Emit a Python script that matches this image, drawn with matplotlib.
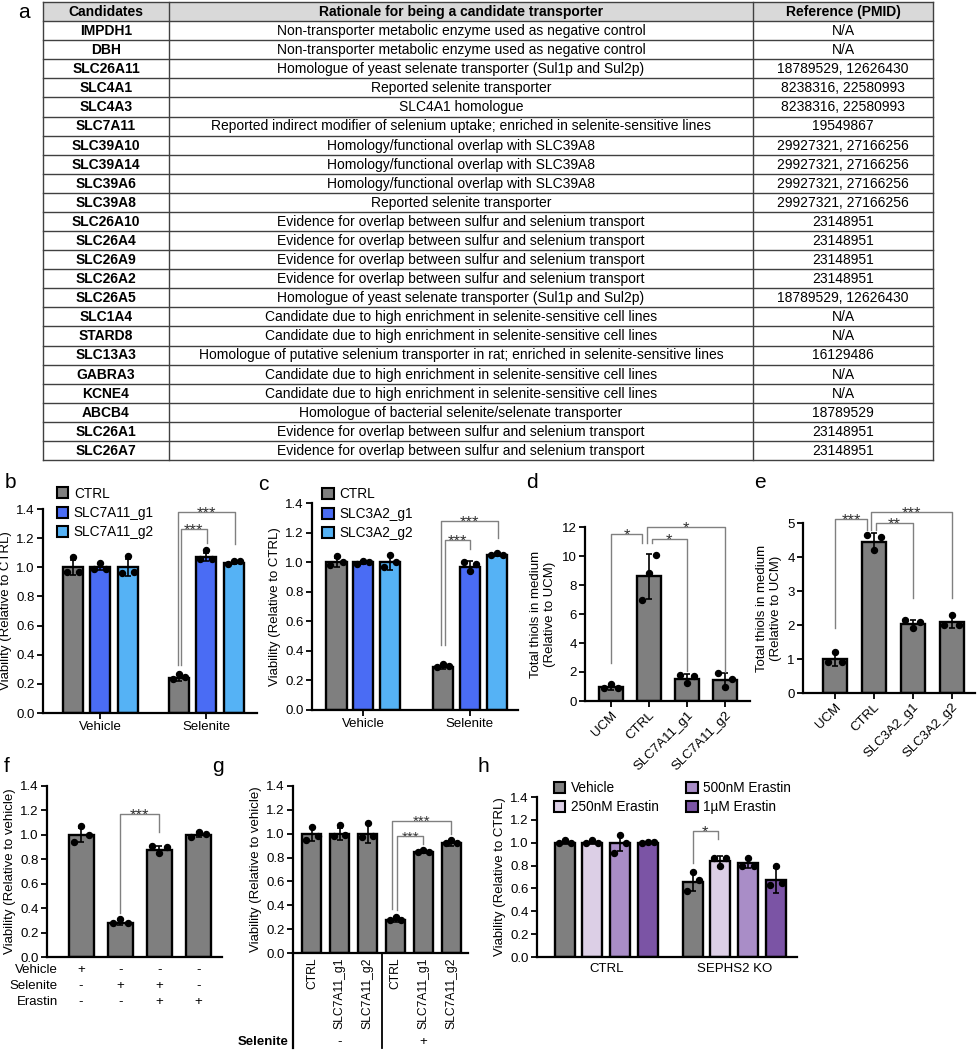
import matplotlib.pyplot as plt
import numpy as np
from matplotlib.patches import Patch, Rectangle

plt.rcParams['font.family'] = ['Liberation Sans', 'DejaVu Sans']
plt.rcParams['font.size'] = 9.2

W, H = 979, 1050

# ---- panel a: candidate table ----
table_header = ["Candidates", "Rationale for being a candidate transporter",
                "Reference (PMID)"]
candidates = ["IMPDH1", "DBH", "SLC26A11", "SLC4A1", "SLC4A3", "SLC7A11",
              "SLC39A10", "SLC39A14", "SLC39A6", "SLC39A8", "SLC26A10",
              "SLC26A4", "SLC26A9", "SLC26A2", "SLC26A5", "SLC1A4", "STARD8",
              "SLC13A3", "GABRA3", "KCNE4", "ABCB4", "SLC26A1", "SLC26A7"]
rationales = [
    "Non-transporter metabolic enzyme used as negative control",
    "Non-transporter metabolic enzyme used as negative control",
    "Homologue of yeast selenate transporter (Sul1p and Sul2p)",
    "Reported selenite transporter",
    "SLC4A1 homologue",
    "Reported indirect modifier of selenium uptake; enriched in selenite-sensitive lines",
    "Homology/functional overlap with SLC39A8",
    "Homology/functional overlap with SLC39A8",
    "Homology/functional overlap with SLC39A8",
    "Reported selenite transporter",
    "Evidence for overlap between sulfur and selenium transport",
    "Evidence for overlap between sulfur and selenium transport",
    "Evidence for overlap between sulfur and selenium transport",
    "Evidence for overlap between sulfur and selenium transport",
    "Homologue of yeast selenate transporter (Sul1p and Sul2p)",
    "Candidate due to high enrichment in selenite-sensitive cell lines",
    "Candidate due to high enrichment in selenite-sensitive cell lines",
    "Homologue of putative selenium transporter in rat; enriched in selenite-sensitive lines",
    "Candidate due to high enrichment in selenite-sensitive cell lines",
    "Candidate due to high enrichment in selenite-sensitive cell lines",
    "Homologue of bacterial selenite/selenate transporter",
    "Evidence for overlap between sulfur and selenium transport",
    "Evidence for overlap between sulfur and selenium transport"]
references = ["N/A", "N/A", "18789529, 12626430", "8238316, 22580993",
              "8238316, 22580993", "19549867", "29927321, 27166256",
              "29927321, 27166256", "29927321, 27166256", "29927321, 27166256",
              "23148951", "23148951", "23148951", "23148951",
              "18789529, 12626430", "N/A", "N/A", "16129486", "N/A", "N/A",
              "18789529", "23148951", "23148951"]

# ---- panel b ----
b_groups = ["Vehicle", "Selenite"]
b_series = ["CTRL", "SLC7A11_g1", "SLC7A11_g2"]
b_means = [[1.0, 1.0, 1.0], [0.24, 1.07, 1.03]]
b_sd = [[0.05, 0.02, 0.06], [0.02, 0.03, 0.01]]
b_points = [[[0.97, 1.07, 0.97], [0.99, 1.03, 0.99], [0.96, 1.08, 0.97]],
            [[0.23, 0.27, 0.25], [1.06, 1.12, 1.06], [1.02, 1.04, 1.04]]]

# ---- panel c ----
c_groups = ["Vehicle", "Selenite"]
c_series = ["CTRL", "SLC3A2_g1", "SLC3A2_g2"]
c_means = [[1.0, 1.0, 1.0], [0.29, 0.97, 1.05]]
c_sd = [[0.03, 0.01, 0.05], [0.01, 0.04, 0.01]]
c_points = [[[0.98, 1.04, 1.0], [0.99, 1.01, 1.0], [0.97, 1.05, 1.0]],
            [[0.29, 0.31, 0.30], [1.0, 0.94, 0.99], [1.05, 1.06, 1.05]]]

# ---- panel d ----
d_labels = ["UCM", "CTRL", "SLC7A11_g1", "SLC7A11_g2"]
d_means = [0.95, 8.6, 1.55, 1.45]
d_sd = [0.17, 1.55, 0.3, 0.45]
d_points = [[0.9, 1.2, 0.9], [7.0, 8.8, 10.1], [1.8, 1.25, 1.75],
            [1.9, 1.0, 1.5]]

# ---- panel e ----
e_labels = ["UCM", "CTRL", "SLC3A2_g1", "SLC3A2_g2"]
e_means = [1.0, 4.45, 2.03, 2.08]
e_sd = [0.2, 0.27, 0.13, 0.18]
e_points = [[0.9, 1.22, 0.9], [4.65, 4.2, 4.6], [2.15, 1.92, 2.1],
            [2.0, 2.28, 2.0]]

# ---- panel f ----
f_means = [1.0, 0.28, 0.88, 1.0]
f_sd = [0.06, 0.02, 0.03, 0.02]
f_points = [[0.94, 1.07, 1.0], [0.28, 0.31, 0.28], [0.91, 0.85, 0.9],
            [0.98, 1.02, 1.01]]
f_rows = ["Vehicle", "Selenite", "Erastin"]
f_signs = [["+", "-", "-", "-"], ["-", "+", "+", "-"], ["-", "-", "+", "+"]]

# ---- panel g ----
g_labels = ["CTRL", "SLC7A11_g1", "SLC7A11_g2",
            "CTRL", "SLC7A11_g1", "SLC7A11_g2"]
g_means = [1.0, 1.0, 1.0, 0.28, 0.85, 0.92]
g_sd = [0.06, 0.05, 0.08, 0.02, 0.01, 0.02]
g_points = [[0.95, 1.06, 0.98], [0.98, 1.07, 0.99], [0.97, 1.09, 0.98],
            [0.28, 0.30, 0.28], [0.85, 0.86, 0.85], [0.92, 0.95, 0.92]]
g_selenite = ["-", "+"]

# ---- panel h ----
h_groups = ["CTRL", "SEPHS2 KO"]
h_series = ["Vehicle", "250nM Erastin", "500nM Erastin", "1\u00b5M Erastin"]
h_means = [[1.0, 1.0, 1.0, 1.0], [0.66, 0.84, 0.82, 0.67]]
h_sd = [[0.01, 0.01, 0.07, 0.01], [0.08, 0.04, 0.04, 0.11]]
h_points = [[[1.0, 1.02, 1.0], [1.0, 1.02, 1.0], [0.91, 1.07, 1.0],
             [1.0, 1.01, 1.01]],
            [[0.58, 0.74, 0.67], [0.87, 0.8, 0.87], [0.8, 0.87, 0.8],
             [0.63, 0.8, 0.65]]]

GREY = "#7f7f7f"
BLUE = "#4a6cf4"
LIGHTBLUE = "#55b2f5"
PURPLES = [GREY, "#dccfe6", "#a98dc7", "#7b54a5"]
BRACKET = "#808080"


def px_axes(fig, left, top, right, bottom):
    """Axes placed by pixel edges of the figure."""
    return fig.add_axes([left / W, 1 - bottom / H, (right - left) / W,
                         (bottom - top) / H])


def style(ax, ymax, step, fmt="%.1f"):
    for s in ["top", "right"]:
        ax.spines[s].set_visible(False)
    for s in ["left", "bottom"]:
        ax.spines[s].set_linewidth(1.6)
    ax.set_ylim(0, ymax)
    ticks = np.arange(0, ymax + step / 2, step)
    ax.set_yticks(ticks)
    ax.set_yticklabels([fmt % t for t in ticks])
    ax.tick_params(width=1.3, length=4, labelsize=9.5, pad=2)


def draw_bars(ax, xs, means, sds, points, colors, width):
    ax.bar(xs, means, width, color=colors, edgecolor="black",
           linewidth=1.7, zorder=2)
    ax.errorbar(xs, means, yerr=sds, fmt="none", ecolor="black",
                elinewidth=1.2, capsize=2.5, capthick=1.2, zorder=3)
    for x, pts in zip(xs, points):
        ax.plot(x + np.array([-0.3, 0, 0.3]) * width, pts, "o",
                color="black", ms=4.3, zorder=4, clip_on=False)


def bracket(ax, x1, x2, top, bot1, bot2, label, size=12):
    ax.plot([x1, x1, x2, x2], [bot1, top, top, bot2], color=BRACKET,
            lw=1, clip_on=False, zorder=5)
    ax.annotate(label, ((x1 + x2) / 2, top), xytext=(0, -size * 0.37),
                textcoords="offset points", ha="center", va="baseline",
                fontsize=size, color="#333333", annotation_clip=False)


def panel_label(fig, x, y, s):
    fig.text(x / W, 1 - y / H, s, fontsize=15, ha="left", va="center")


def square_legend(ax, labels, colors, anchor, ncol=1, colspace=1.0):
    handles = [Patch(facecolor=c, edgecolor="black", lw=1.5) for c in colors]
    ax.legend(handles, labels, loc="upper left", bbox_to_anchor=anchor,
              frameon=False, borderpad=0, borderaxespad=0, ncol=ncol,
              handlelength=0.85, handleheight=0.85, handletextpad=0.4,
              labelspacing=0.4, columnspacing=colspace, fontsize=9.8)


fig = plt.figure(figsize=(W / 100, H / 100), dpi=100)

# ---------------- a: table ----------------
col_edges = [43, 169, 753, 933]
ax = px_axes(fig, 43, 2, 933, 460)
n_rows = len(candidates) + 1
ax.set_xlim(col_edges[0], col_edges[-1])
ax.set_ylim(n_rows, 0)
ax.axis("off")
ax.add_patch(Rectangle((col_edges[0], 0), col_edges[-1] - col_edges[0], 1,
                       facecolor="#d9d9d9", edgecolor="none"))
for r in range(n_rows + 1):
    ax.plot([col_edges[0], col_edges[-1]], [r, r], color="#404040", lw=1,
            clip_on=False)
for c in col_edges:
    ax.plot([c, c], [0, n_rows], color="#404040", lw=1, clip_on=False)
centers = [(col_edges[i] + col_edges[i + 1]) / 2 for i in range(3)]
for i, txt in enumerate(table_header):
    ax.text(centers[i], 0.52, txt, ha="center", va="center", fontsize=10,
            fontweight="bold")
for r, row in enumerate(zip(candidates, rationales, references)):
    for i, txt in enumerate(row):
        ax.text(centers[i], r + 1.52, txt, ha="center", va="center",
                fontsize=10, fontweight="bold" if i == 0 else "normal")
panel_label(fig, 18, 12, "a")

# ---------------- b ----------------
ax = px_axes(fig, 43, 509, 257, 713)
style(ax, 1.4, 0.2)
offs = np.array([-0.26, 0, 0.26])
for gi in range(2):
    draw_bars(ax, gi + offs, b_means[gi], b_sd[gi], b_points[gi],
              [GREY, BLUE, LIGHTBLUE], 0.19)
ax.set_xlim(-0.54, 1.48)
ax.set_xticks([0, 1])
ax.set_xticklabels(b_groups)
ax.set_ylabel("Viability (Relative to CTRL)", fontsize=9.5, labelpad=3)
bracket(ax, 0.73, 1.27, 1.38, 0.33, 1.16, "***")
bracket(ax, 0.76, 1.01, 1.26, 0.33, 1.17, "***")
square_legend(ax, b_series, [GREY, BLUE, LIGHTBLUE], (0.065, 1.11))
panel_label(fig, 5, 483, "b")

# ---------------- c ----------------
ax = px_axes(fig, 312, 503, 518, 710)
style(ax, 1.4, 0.2)
offs = np.array([-0.25, 0, 0.25])
for gi in range(2):
    draw_bars(ax, gi + offs, c_means[gi], c_sd[gi], c_points[gi],
              [GREY, BLUE, LIGHTBLUE], 0.19)
ax.set_xlim(-0.48, 1.45)
ax.set_xticks([0, 1])
ax.set_xticklabels(c_groups)
ax.set_ylabel("Viability (Relative to CTRL)", fontsize=9.5, labelpad=3)
bracket(ax, 0.73, 1.26, 1.28, 0.44, 1.16, "***")
bracket(ax, 0.77, 1.0, 1.15, 0.44, 1.09, "***")
square_legend(ax, c_series, [GREY, BLUE, LIGHTBLUE], (0.05, 1.075))
panel_label(fig, 258, 485, "c")

# ---------------- d ----------------
ax = px_axes(fig, 585, 527, 750, 701)
style(ax, 12, 2, "%d")
xs = np.arange(4)
draw_bars(ax, xs, d_means, d_sd, d_points, GREY, 0.63)
ax.set_xlim(-0.68, 3.66)
ax.set_xticks(xs)
ax.set_xticklabels(d_labels, rotation=45, ha="right", rotation_mode="anchor")
ax.set_ylabel("Total thiols in medium\n(Relative to UCM)", fontsize=9.5,
              labelpad=4)
bracket(ax, 0.0, 0.83, 11.5, 2.6, 10.9, "*")
bracket(ax, 1.08, 2.0, 11.2, 10.9, 2.1, "*")
bracket(ax, 0.95, 3.0, 12.0, 10.9, 2.0, "*")
panel_label(fig, 526, 482, "d")

# ---------------- e ----------------
ax = px_axes(fig, 803, 523, 975, 693)
style(ax, 5, 1, "%d")
draw_bars(ax, xs, e_means, e_sd, e_points, GREY, 0.62)
ax.set_xlim(-0.82, 3.6)
ax.set_xticks(xs)
ax.set_xticklabels(e_labels, rotation=45, ha="right", rotation_mode="anchor")
ax.set_ylabel("Total thiols in medium\n(Relative to UCM)", fontsize=9.5,
              labelpad=4)
bracket(ax, 0.0, 0.83, 5.12, 1.9, 4.8, "***")
bracket(ax, 1.05, 2.0, 5.0, 4.8, 2.8, "**")
bracket(ax, 0.92, 3.0, 5.32, 4.8, 2.8, "***")
panel_label(fig, 754, 482, "e")

# ---------------- f ----------------
ax = px_axes(fig, 47, 786, 222, 957)
style(ax, 1.4, 0.2)
draw_bars(ax, xs, f_means, f_sd, f_points, GREY, 0.64)
ax.set_xlim(-0.87, 3.6)
ax.set_xticks([])
ax.set_ylabel("Viability (Relative to vehicle)", fontsize=9.5, labelpad=3)
bracket(ax, 1.0, 2.0, 1.17, 0.36, 1.02, "***")
row_y = [-0.107, -0.238, -0.369]
for name, signs, y in zip(f_rows, f_signs, row_y):
    ax.text(-0.59, y, name, ha="right", va="center", fontsize=9.5,
            clip_on=False)
    for x, s in zip(xs, signs):
        ax.text(x, y, s, ha="center", va="center", fontsize=9.5,
                clip_on=False)
panel_label(fig, 4, 767, "f")

# ---------------- g ----------------
ax = px_axes(fig, 293, 786, 468, 953)
style(ax, 1.4, 0.2)
xg = np.arange(6)
draw_bars(ax, xg, g_means, g_sd, g_points, GREY, 0.68)
ax.set_xlim(-0.68, 5.6)
ax.set_xticks(xg)
ax.set_xticklabels(g_labels, rotation=90, ha="center", va="top", fontsize=8.7)
ax.tick_params(axis="x", length=0, pad=3)
ax.set_ylabel("Viability (Relative to vehicle)", fontsize=9.5, labelpad=3)
drop = -(1048 - 953) / (953 - 786)
sel_y = -(1042 - 953) / (953 - 786)
ax.plot([0, 0], [0, drop], color="black", lw=1.6, clip_on=False,
        transform=ax.transAxes)
ax.plot([2.5, 2.5], [0, drop], color="black", lw=1.3, clip_on=False,
        transform=ax.get_xaxis_transform())
bracket(ax, 2.86, 5.0, 1.11, 0.37, 1.0, "***", size=11)
bracket(ax, 3.07, 4.0, 0.98, 0.36, 0.91, "***", size=11)
ax.text(-0.85, sel_y, "Selenite", ha="right", va="center",
        fontsize=9.5, fontweight="bold", transform=ax.get_xaxis_transform())
for x, s in zip([1, 4], g_selenite):
    ax.text(x, sel_y, s, ha="center", va="center", fontsize=9.5,
            transform=ax.get_xaxis_transform())
panel_label(fig, 212, 767, "g")

# ---------------- h ----------------
ax = px_axes(fig, 537, 797, 797, 957)
style(ax, 1.4, 0.2)
offs = (np.arange(4) - 1.5) * 0.216
for gi in range(2):
    draw_bars(ax, gi + offs, h_means[gi], h_sd[gi], h_points[gi], PURPLES,
              0.156)
ax.set_xlim(-0.54, 1.49)
ax.set_xticks([0, 1])
ax.set_xticklabels(h_groups)
ax.tick_params(axis="x", length=0, pad=4)
ax.set_ylabel("Viability (Relative to CTRL)", fontsize=9.5, labelpad=3)
bracket(ax, 1 + offs[0], 1 + offs[1] - 0.02, 1.1, 0.82, 1.03, "*")
square_legend(ax, h_series, PURPLES, (0.065, 1.1), ncol=2, colspace=2.0)
panel_label(fig, 478, 767, "h")

fig.savefig("out.png", dpi=100)
